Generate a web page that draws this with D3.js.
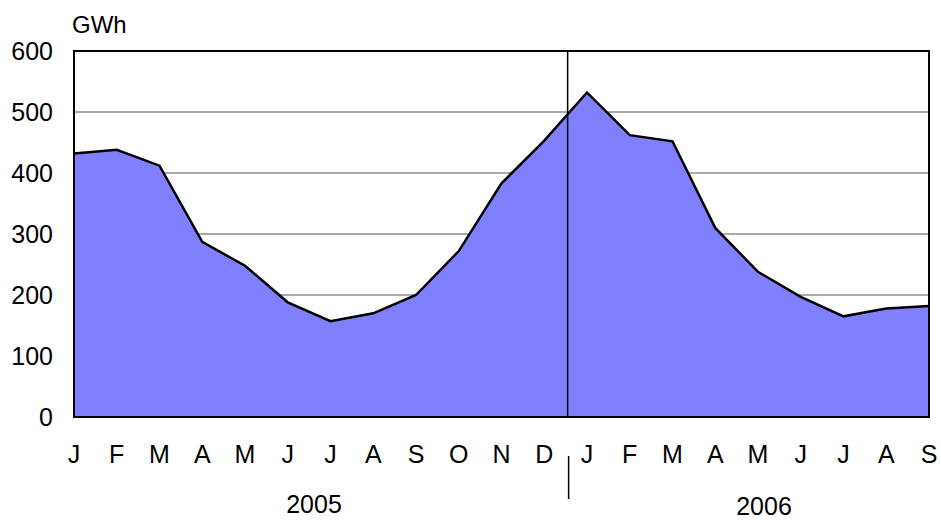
<!DOCTYPE html>
<html><head><meta charset="utf-8">
<script src="https://cdn.jsdelivr.net/npm/d3@7"></script>
<style>body{margin:0;background:#fff}svg{display:block;font-family:"Liberation Sans",Arial,sans-serif}</style>
</head><body><svg width="941" height="522"></svg>
<script>
const months = ["J","F","M","A","M","J","J","A","S","O","N","D","J","F","M","A","M","J","J","A","S"];
const values = [432,438,412,287,248,188,157,170,200,272,383,453,532,462,452,310,238,197,165,178,182];
const yTicks = [0,100,200,300,400,500,600];
const years = ["2005","2006"];

const svg = d3.select("svg");
const L=74,R=929,T=51,B=417;
const FS=25;
const x = d3.scaleLinear().domain([0,months.length-1]).range([L,R]);
const y = d3.scaleLinear().domain([0,600]).range([B,T]);

// grid
svg.append("g").selectAll("line").data(yTicks.filter(d=>d>0&&d<600)).join("line")
  .attr("x1",L).attr("x2",R).attr("y1",d=>y(d)).attr("y2",d=>y(d))
  .attr("stroke","#555").attr("stroke-width",1);

const area = d3.area().x((d,i)=>x(i)).y0(y(0)).y1(d=>y(d));
svg.append("path").datum(values).attr("d",area).attr("fill","#8080ff");
const line = d3.line().x((d,i)=>x(i)).y(d=>y(d));
svg.append("path").datum(values).attr("d",line).attr("fill","none").attr("stroke","#000").attr("stroke-width",2.5).attr("stroke-linejoin","miter");

// divider
const xd = (x(11)+x(12))/2 + 2;
svg.append("line").attr("x1",xd).attr("x2",xd).attr("y1",T).attr("y2",B).attr("stroke","#000").attr("stroke-width",1.5);
svg.append("line").attr("x1",xd+1).attr("x2",xd+1).attr("y1",456).attr("y2",499).attr("stroke","#000").attr("stroke-width",1.5);

// frame
svg.append("rect").attr("x",L).attr("y",T).attr("width",R-L).attr("height",B-T).attr("fill","none").attr("stroke","#000").attr("stroke-width",2);

// y labels
svg.append("g").selectAll("text").data(yTicks).join("text")
  .attr("x",53).attr("y",d=>y(d)+9).attr("text-anchor","end")
  .attr("font-size",FS).attr("fill","#000").text(d=>d);
svg.append("text").attr("x",72).attr("y",33).attr("font-size",FS-1).text("GWh");

// x labels
svg.append("g").selectAll("text").data(months).join("text")
  .attr("x",(d,i)=>x(i)).attr("y",463).attr("text-anchor","middle")
  .attr("font-size",FS).text(d=>d);

svg.append("text").attr("x",314).attr("y",513).attr("text-anchor","middle").attr("font-size",FS).text(years[0]);
svg.append("text").attr("x",764).attr("y",515).attr("text-anchor","middle").attr("font-size",FS).text(years[1]);
</script></body></html>
